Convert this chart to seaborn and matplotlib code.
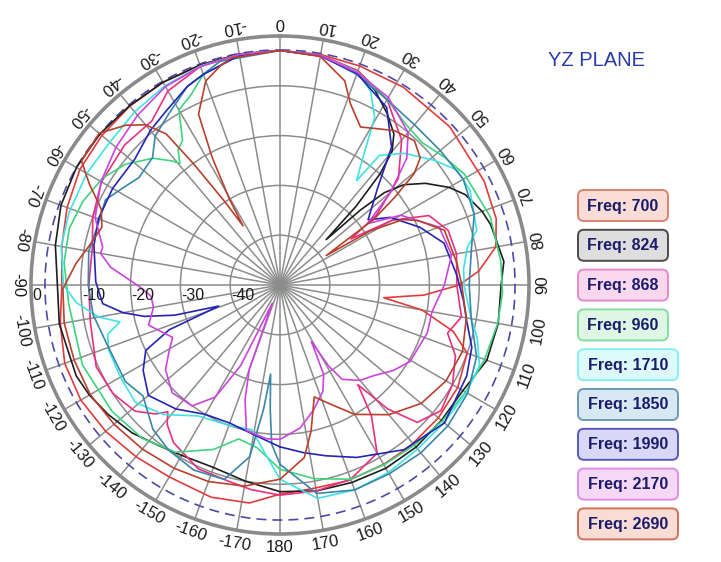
import numpy as np
import pandas as pd
import matplotlib
matplotlib.use("Agg")
import matplotlib.pyplot as plt
import seaborn as sns
from matplotlib.patches import FancyBboxPatch

sns.set_style("white")
plt.rcParams["font.family"] = ["Liberation Sans", "DejaVu Sans"]

freqs = ["700", "824", "868", "960", "1710", "1850", "1990", "2170", "2690"]
line_colors = ["#e23b3b", "#1e1e1e", "#e8307e", "#3ed47e", "#3fe3e3",
               "#3a86a6", "#2424b4", "#cc44dd", "#b8402c"]
box_faces = ["#f9dcd6", "#dedede", "#f9d8ee", "#ddf7e4", "#dcfafa",
             "#d8e8f2", "#d8d8f6", "#f6d8f6", "#f9dcd4"]
box_edges = ["#d9826e", "#4a4a4a", "#e58ac8", "#86dca0", "#86eef0",
             "#6a98b8", "#5858b8", "#e08ce6", "#d0705a"]

# angle (deg, clockwise from 0 at top) and gain (dB) for each frequency
ang_700 = [-180, -172, -162, -150, -140, -130, -120, -110, -100, -90, -80, -70, -60, -50, -40, -30, -20, -10,
           0, 10, 20, 32, 47, 63, 73, 80, 86, 90, 94, 97, 100, 105, 110, 120, 130, 141, 150, 161, 171, 180]
gain_700 = [-8, -5.8, -5.2, -5.5, -5, -4.3, -3.8, -4, -5.2, -6.2, -5.5, -4.5, -3.6, -3.3, -3.1, -3, -3, -2.9,
            -2.9, -3, -3.2, -3.2, -3.4, -4, -4.6, -6, -10, -14, -21, -29, -21, -14, -10, -8.8, -8.5, -8.4, -8.4, -8.4, -8.6, -8]

ang_824 = [-180, -170, -160, -150, -143, -135, -127, -120, -114, -100, -90, -80, -70, -60, -50, -40, -30, -20, -10,
           0, 10, 20, 26, 32, 37, 40, 42, 44, 45.5, 47, 48.5, 51, 55, 60, 64, 70, 74, 84, 90, 100, 110, 120, 130,
           140, 150, 160, 170, 180]
gain_824 = [-8.5, -10, -11, -10.5, -9.6, -8, -6.8, -5.8, -5.2, -5, -5.3, -4.2, -3.2, -2.8, -2.8, -3, -3, -3, -2.9,
            -2.9, -3.3, -4.6, -6.5, -9.4, -12, -15, -20, -28, -37, -28, -22, -18, -14.4, -10.8, -8.6, -6.8, -6, -4.8,
            -5.6, -5.5, -5.8, -7.6, -7.7, -7.5, -7.5, -7.8, -8, -8.5]

ang_868 = [-180, -172, -166, -156, -146, -141, -138.5, -136, -131, -123, -114, -101, -90, -79, -70, -60, -48, -38,
           -30, -20, -10, 0, 10, 20, 30, 40, 48, 54, 57, 60, 65, 72, 80, 90, 100, 106, 112, 120, 128, 135, 139, 142,
           145, 150, 160, 170, 180]
gain_868 = [-7.8, -8.5, -9.2, -9.6, -11.8, -14, -16, -14, -11.4, -10, -9.6, -11.2, -11.6, -11.6, -10, -8.6, -8, -8.2,
            -5, -3.3, -3, -2.9, -3.1, -4.2, -7, -12, -18, -26, -33, -24, -17, -14.5, -14, -14.5, -13, -15, -12, -10,
            -9, -11, -17, -24.6, -18, -11, -8.5, -8, -7.8]

ang_960 = [-180, -172, -165, -158, -148, -138, -127, -112, -95, -84, -75, -67, -59, -52, -45, -41, -39.5, -37, -34,
           -30, -25, -20, -10, 0, 10, 20, 30, 38, 45, 52, 59, 72, 84, 92, 100, 110, 120, 130, 140, 150, 160, 170, 180]
gain_960 = [-13, -17, -18, -14.4, -10.4, -8.6, -7.8, -7.2, -7.4, -6.4, -6.2, -7, -8.4, -10.6, -14, -17, -18.4, -16,
            -15, -9.4, -7.8, -5, -3.1, -2.9, -3.2, -4.5, -7, -9, -9.6, -8.2, -6.8, -5.6, -5.4, -5.3, -5.6, -6.3, -7,
            -7.5, -8, -8.3, -8.5, -10.5, -13]

ang_1710 = [-180, -175, -169, -160, -148, -138, -129, -120, -110.7, -106, -103, -100, -95, -90, -80, -71, -60, -50.5,
            -40, -30, -20, -10, 0, 10, 20, 25, 29.5, 31.3, 34, 36.3, 37.5, 43.4, 51, 57, 63.6, 74.5, 78.6, 85, 90.6,
            96, 100, 105, 112, 120, 130, 140, 150, 160, 170, 180]
gain_1710 = [-11, -16, -20.4, -20, -19, -15, -12.6, -13, -13.2, -14, -17, -13, -9, -6.5, -5.4, -5.2, -5.2, -5.4,
             -4.6, -3.8, -3.2, -3, -2.9, -3.2, -4.5, -7, -11.4, -16, -21, -24, -17.2, -13.6, -10.2, -7.6, -7.4, -9,
             -11.6, -13, -13, -12, -11, -9, -6.8, -6.8, -7, -7, -6.5, -6.2, -6.5, -11]

ang_1850 = [-180, -177, -175.5, -174, -172.5, -170, -164, -155, -146, -138.6, -129, -122, -108, -99, -90, -80, -72,
            -64, -58, -52.7, -45, -40, -33, -25, -15, 0, 10, 20, 30, 40, 50, 60, 70, 80, 90, 100, 110, 120, 130, 140,
            150, 160, 170, 180]
gain_1850 = [-14, -18, -25, -32, -25, -15, -9.4, -9, -10, -11.4, -14.6, -13.4, -13.2, -12, -11.5, -11, -11.5, -11,
             -13, -14.4, -13.8, -11, -9, -6, -3.5, -2.9, -3.2, -5, -7, -8, -8, -7.5, -8.5, -11, -12, -11, -8, -6.5,
             -6, -6, -6.2, -6.2, -7.5, -14]

ang_1990 = [-180, -170, -160, -150, -140, -130, -122, -116, -112, -109, -106, -103, -100, -96, -89, -78, -70, -60,
            -49, -40, -33, -25, -20, -10, 0, 10, 20, 31, 39, 45, 50, 53.5, 58.5, 67.6, 75.7, 87, 95, 101, 108, 116,
            130, 143, 156, 165, 172, 180]
gain_1990 = [-17.5, -19.5, -20.5, -20, -17.5, -15.5, -17.6, -20, -26, -37, -28, -22, -18, -14.2, -13, -11.8, -11.2,
             -11.2, -11.4, -9.5, -8.2, -6, -5, -3.2, -2.9, -3.3, -4.8, -8.4, -14.4, -22.2, -26, -28, -24, -19.6, -16,
             -14.4, -13, -11.8, -9.5, -8.3, -6.9, -8.6, -12.1, -14.5, -16, -17.5]

ang_2170 = [-180, -175, -167, -163, -160, -157, -154, -150, -144, -135, -126.5, -121, -116, -107, -100, -95, -91,
            -84, -80, -78, -70, -60, -50, -40, -30, -20, -10, 0, 10, 20, 30, 40, 45, 50, 55, 60, 70, 80, 90, 100,
            108, 120.5, 127, 134, 140, 146.6, 149, 151, 154, 158, 165, 172, 180]
gain_2170 = [-19, -19, -20, -26, -32, -46, -32, -24, -20, -19.4, -21.4, -24, -26, -22.4, -24.2, -24, -22, -15.8,
             -13.4, -13.6, -10.5, -8.5, -7, -5.5, -4, -3.3, -3, -2.9, -3.2, -4.6, -6.5, -10, -14, -21, -28.5, -22,
             -16, -15, -17, -19, -18.9, -19.7, -21.5, -23.8, -25, -27.3, -31, -37, -30, -27, -24, -21, -19]

ang_2690 = [-180, -170, -160, -150, -140, -130, -120, -110, -100, -91, -84, -78, -72, -67, -62, -58, -50, -44, -40,
            -37, -35.5, -33.5, -32, -30.5, -28, -25.5, -20, -15, -12, 0, 10, 17.6, 21.3, 27, 32, 36.6, 43, 47.8,
            50.3, 52.6, 55, 57.5, 59, 62, 65, 71.6, 83, 90, 100, 110, 120, 130, 140, 150, 157, 163, 168, 172, 180]
gain_2690 = [-11, -9, -8, -7.5, -7, -6.5, -6, -6, -6, -6.4, -8.8, -11, -12.4, -11, -6.6, -3, -2.6, -5.4, -8, -12,
             -20, -30, -36, -30, -21, -12, -6.4, -4.3, -3.4, -2.9, -3.4, -7, -11, -14.4, -13, -11.4, -10.4, -12, -15,
             -21, -27, -39, -29, -22, -19.4, -15.2, -14.2, -13.5, -12, -11, -11.5, -13, -16, -20, -24, -26.5, -20,
             -15, -11]

angles = {"700": ang_700, "824": ang_824, "868": ang_868, "960": ang_960, "1710": ang_1710,
          "1850": ang_1850, "1990": ang_1990, "2170": ang_2170, "2690": ang_2690}
gains = {"700": gain_700, "824": gain_824, "868": gain_868, "960": gain_960, "1710": gain_1710,
         "1850": gain_1850, "1990": gain_1990, "2170": gain_2170, "2690": gain_2690}

rows = []
for f in freqs:
    for a, g in zip(angles[f], gains[f]):
        rows.append({"freq": f, "theta": np.deg2rad(a), "gain": g})
df = pd.DataFrame(rows)

fig = plt.figure(figsize=(7.21, 5.62), dpi=100)
fig.patch.set_facecolor("white")
ax = fig.add_axes([31 / 721, 28 / 562, 498 / 721, 498 / 562], projection="polar")
ax.set_theta_zero_location("N")
ax.set_theta_direction(-1)

grid_col = "#8c8c8c"
# dashed reference circle
th = np.linspace(0, 2 * np.pi, 721)
ax.plot(th, np.full_like(th, -2.8), color="#4b4ba6", lw=1.2, ls=(0, (6, 3.6)), zorder=2)

sns.lineplot(data=df, x="theta", y="gain", hue="freq", hue_order=freqs,
             palette=dict(zip(freqs, line_colors)), estimator=None, sort=False,
             legend=False, ax=ax, linewidth=1.2, zorder=3)
ax.set_xlabel("")
ax.set_ylabel("")
ax.set_ylim(-50, 0)
ax.set_thetagrids(np.arange(0, 360, 10), labels=[""] * 36)
ax.set_rgrids([-40, -30, -20, -10], labels=[""] * 4)
ax.grid(True, color=grid_col, lw=1.1)
ax.spines["polar"].set_color("#8a8a8a")
ax.spines["polar"].set_linewidth(2.6)
ax.set_facecolor("white")

# angular labels, tops facing the centre
for a in range(-170, 181, 10):
    ax.text(np.deg2rad(a), 2.7, str(a), rotation=180 - a, rotation_mode="anchor",
            ha="center", va="center", fontsize=12, color="#1a1a1a", clip_on=False)

# radial labels along the left axis
for v in [0, -10, -20, -30, -40]:
    ax.annotate(str(v), xy=(np.deg2rad(-90), v), xytext=(0.8, -2.5), textcoords="offset points",
                ha="left", va="top", fontsize=11.5, color="#1a1a1a", zorder=10, annotation_clip=False)

fig.text(596 / 721, 1 - 60 / 562, "YZ PLANE", ha="center", va="center",
         color="#2a3aa8", fontsize=14.5)

# legend boxes
lax = fig.add_axes([0, 0, 1, 1])
lax.set_xlim(0, 721)
lax.set_ylim(562, 0)
lax.axis("off")
for i, f in enumerate(freqs):
    w = 90 if len(f) == 3 else 100
    y0 = 190 + 39.8 * i
    lax.add_patch(FancyBboxPatch((578, y0), w, 31, boxstyle="round,pad=0,rounding_size=6",
                                 fc=box_faces[i], ec=box_edges[i], lw=1.4))
    lax.text(578 + w / 2, y0 + 16, "Freq: " + f, ha="center", va="center",
             fontweight="bold", color="#1c1c6c", fontsize=11.5,
             family=["Liberation Sans Narrow", "Liberation Sans", "DejaVu Sans"])

fig.savefig("out.png", dpi=100, facecolor="white")
